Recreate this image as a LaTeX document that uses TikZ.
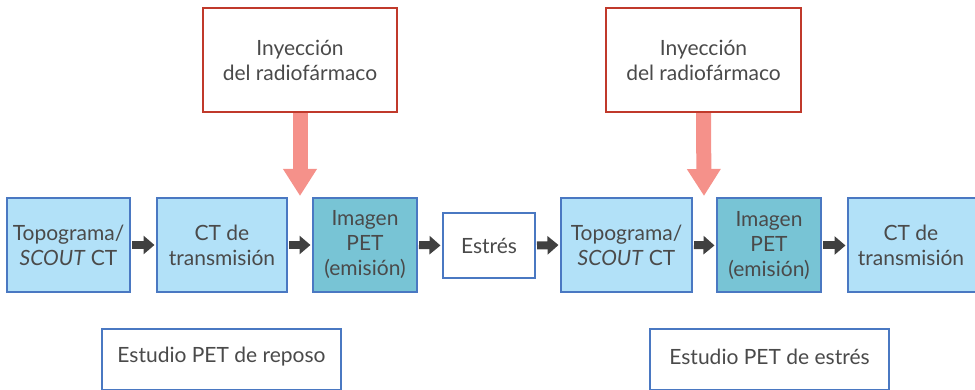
\documentclass[tikz,border=0pt]{standalone}
\usepackage{fontspec}
\setmainfont{Lato}
\usetikzlibrary{arrows.meta}
\definecolor{bluebd}{HTML}{4A78C2}
\definecolor{lightfill}{HTML}{B2E1F8}
\definecolor{tealfill}{HTML}{78C4D5}
\definecolor{redbd}{HTML}{C0392B}
\definecolor{pinkarr}{HTML}{F5918A}
\definecolor{darkarr}{HTML}{404040}
\definecolor{txt}{HTML}{4A4A4A}
\tikzset{
  box/.style={draw=bluebd, line width=2pt, fill=lightfill, inner sep=0pt, align=center,
    text=txt, font=\fontsize{21}{25}\selectfont},
  petbox/.style={box, fill=tealfill},
  plainbox/.style={box, fill=white},
  redbox/.style={draw=redbd, line width=2.4pt, fill=white, inner sep=0pt, align=center,
    text=txt, font=\fontsize{21}{25}\selectfont},
  lbl/.style={text=txt, font=\fontsize{21}{25}\selectfont, inner sep=0pt},
  darrow/.style={draw=darkarr, line width=8pt, -{Triangle[length=11pt,width=18pt]}, shorten <=1pt, shorten >=1.5pt},
  parrow/.style={draw=pinkarr, line width=15pt, -{Triangle[length=27pt,width=32pt]}},
}
\begin{document}
\begin{tikzpicture}[x=1pt,y=-1pt]
\useasboundingbox (0,0) rectangle (975,390);
% flow boxes (x: left-right, y: 198-292)
\node[box, minimum width=123pt, minimum height=94pt] (b1) at (68.5,245) {Topograma/\\\textit{SCOUT} CT};
\node[box, minimum width=130pt, minimum height=94pt] (b2) at (222,245) {CT de\\transmisión};
\node[petbox, minimum width=104pt, minimum height=94pt] (b3) at (365,245) {Imagen\\PET\\(emisión)};
\node[plainbox, minimum width=92pt, minimum height=65pt] (b4) at (489,245.5) {Estrés};
\node[box, minimum width=131pt, minimum height=94pt] (b5) at (626.5,245) {Topograma/\\\textit{SCOUT} CT};
\node[petbox, minimum width=104pt, minimum height=94pt] (b6) at (769,245.5) {Imagen\\PET\\(emisión)};
\node[box, minimum width=134pt, minimum height=94pt] (b7) at (915,245.5) {};
\node[lbl, align=center] (b7t) at (911,245.5) {CT de\\transmisión};
% connectors
\draw[darrow] (b1.east) -- (b2.west);
\draw[darrow] (b2.east) -- (b3.west);
\draw[darrow] (b3.east) -- (b4.west);
\draw[darrow] (b4.east) -- (b5.west);
\draw[darrow] (b5.east) -- (b6.west);
\draw[darrow] (b6.east) -- (b7.west);
% injection boxes
\node[redbox, minimum width=194pt, minimum height=104pt] (r1) at (300,60) {Inyección\\del radiofármaco};
\node[redbox, minimum width=195pt, minimum height=104pt] (r2) at (703.5,60) {Inyección\\del radiofármaco};
\coordinate (t1) at (300,196);
\coordinate (t2) at (704,196);
\draw[parrow] (r1.south) -- (t1);
\draw[parrow] (r2.south) -- (t2);
% study boxes
\node[draw=bluebd, line width=2pt, fill=white, minimum width=239pt, minimum height=61pt, inner sep=0pt] (s1) at (221.5,359.5) {};
\node[lbl] (s1t) at (221.5,357) {Estudio PET de reposo};
\node[draw=bluebd, line width=2pt, fill=white, minimum width=239pt, minimum height=61pt, inner sep=0pt] (s2) at (769.5,359.5) {};
\node[lbl] (s2t) at (769.5,357) {Estudio PET de estrés};
\end{tikzpicture}
\end{document}
